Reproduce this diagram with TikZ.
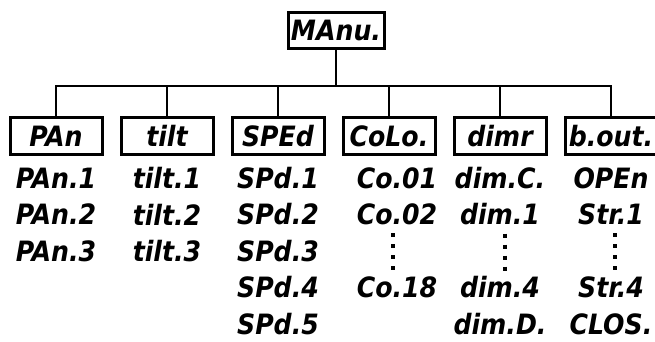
\documentclass[tikz,border=0pt]{standalone}
\usepackage{fontspec}
\setmainfont{DejaVu Sans Condensed}
\usetikzlibrary{positioning}
\newcommand{\lcdfont}{\fontsize{28}{28}\selectfont\bfseries\itshape}
\tikzset{menu/.style={draw, line width=3pt, minimum width=92pt, minimum height=37pt, inner sep=0pt, font=\lcdfont}}

\begin{document}
\begin{tikzpicture}[x=1pt, y=-1pt, node distance=111pt, tree/.style={line width=2.6pt}, item/.style={inner sep=0pt, font=\lcdfont}, dots/.style={line width=4pt, dash pattern=on 4pt off 7pt}]
\useasboundingbox (0,0) rectangle (655,341);
\node[menu, minimum width=96pt, minimum height=36pt] (manu) at (336,30) {MAnu.};
\node[menu] (pan) at (56,136) {PAn};
\node[menu, right of=pan] (tilt) {tilt};
\node[menu, right of=tilt] (sped) {SPEd};
\node[menu, right of=sped] (colo) {CoLo.};
\node[menu, right of=colo] (dimr) {dimr};
\node[menu, right of=dimr] (bout) {b.out.};
\coordinate (bus) at (0,86);
\draw[tree] (manu.south) -- (manu.south |- bus);
\draw[tree] (pan.north) |- (bout.north |- bus) -- (bout.north);
\foreach \n in {tilt,sped,colo,dimr} \draw[tree] (\n.north) -- (\n.north |- bus);
\node[item, below of=pan, node distance=42pt] (pan1) {PAn.1};
\node[item, below of=pan1, node distance=36.5pt] (pan2) {PAn.2};
\node[item, below of=pan2, node distance=36.5pt] (pan3) {PAn.3};
\node[item, below of=tilt, node distance=42pt] (tilt1) {tilt.1};
\node[item, below of=tilt1, node distance=36.5pt] (tilt2) {tilt.2};
\node[item, below of=tilt2, node distance=36.5pt] (tilt3) {tilt.3};
\node[item, below of=sped, node distance=42pt] (sped1) {SPd.1};
\node[item, below of=sped1, node distance=36.5pt] (sped2) {SPd.2};
\node[item, below of=sped2, node distance=36.5pt] (sped3) {SPd.3};
\node[item, below of=sped3, node distance=36.5pt] (sped4) {SPd.4};
\node[item, below of=sped4, node distance=36.5pt] (sped5) {SPd.5};
\node[item, below of=colo, node distance=42pt, xshift=8pt] (colo1) {Co.01};
\node[item, below of=colo1, node distance=36.5pt] (colo2) {Co.02};
\node[item, below of=colo2, node distance=73pt] (colo18) {Co.18};
\node[item, below of=dimr, node distance=42pt] (dimrc) {dim.C.};
\node[item, below of=dimrc, node distance=36.5pt] (dimr1) {dim.1};
\node[item, below of=dimr1, node distance=73pt] (dimr4) {dim.4};
\node[item, below of=dimr4, node distance=36.5pt] (dimrd) {dim.D.};
\node[item, below of=bout, node distance=42pt] (open) {OPEn};
\node[item, below of=open, node distance=36.5pt] (str1) {Str.1};
\node[item, below of=str1, node distance=73pt] (str4) {Str.4};
\node[item, below of=str4, node distance=36.5pt] (clos) {CLOS.};
\draw[dots] ([xshift=-4pt, yshift=-8pt]colo2.south) -- ([xshift=-4pt, yshift=5pt]colo18.north);
\draw[dots] ([xshift=5pt, yshift=-8pt]dimr1.south) -- ([xshift=5pt, yshift=5pt]dimr4.north);
\draw[dots] ([xshift=4pt, yshift=-8pt]str1.south) -- ([xshift=4pt, yshift=5pt]str4.north);
\end{tikzpicture}
\end{document}
